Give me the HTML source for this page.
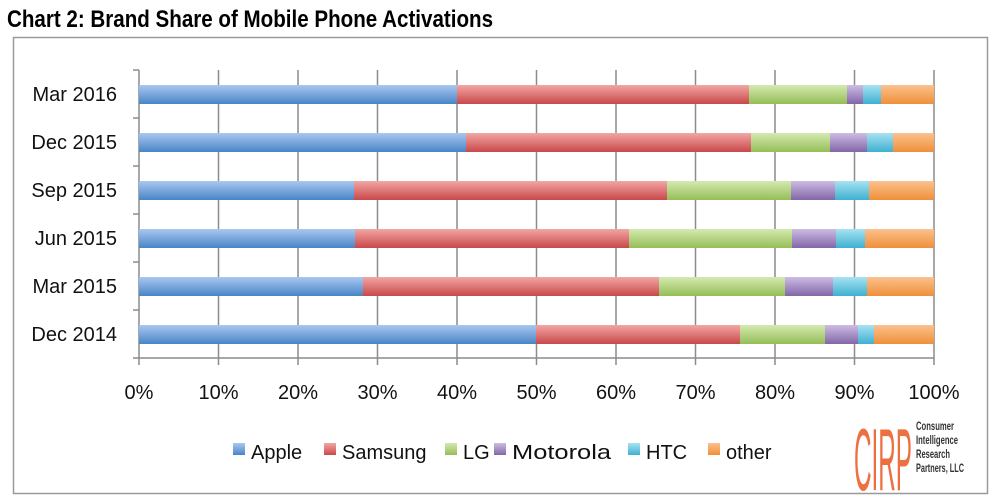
<!DOCTYPE html>
<html><head><meta charset="utf-8"><style>
html,body{margin:0;padding:0;background:#fff;}
svg{display:block;font-family:"Liberation Sans",sans-serif;}
</style></head><body>
<svg width="1000" height="500" viewBox="0 0 1000 500" xmlns="http://www.w3.org/2000/svg">
<defs>
<linearGradient id="gA" x1="0" y1="0" x2="0" y2="1"><stop offset="0" stop-color="#a9c8f0"/><stop offset="1" stop-color="#4a84c6"/></linearGradient>
<linearGradient id="gS" x1="0" y1="0" x2="0" y2="1"><stop offset="0" stop-color="#f2a7a5"/><stop offset="1" stop-color="#c9484a"/></linearGradient>
<linearGradient id="gL" x1="0" y1="0" x2="0" y2="1"><stop offset="0" stop-color="#d4eab0"/><stop offset="1" stop-color="#96bd58"/></linearGradient>
<linearGradient id="gM" x1="0" y1="0" x2="0" y2="1"><stop offset="0" stop-color="#cdbde3"/><stop offset="1" stop-color="#8266a8"/></linearGradient>
<linearGradient id="gH" x1="0" y1="0" x2="0" y2="1"><stop offset="0" stop-color="#a8e2f3"/><stop offset="1" stop-color="#3fb0cf"/></linearGradient>
<linearGradient id="gO" x1="0" y1="0" x2="0" y2="1"><stop offset="0" stop-color="#fbc18d"/><stop offset="1" stop-color="#f08f3a"/></linearGradient>
</defs>
<text x="7" y="27" font-size="24" font-weight="bold" textLength="486" lengthAdjust="spacingAndGlyphs">Chart 2: Brand Share of Mobile Phone Activations</text>
<rect x="13.5" y="37.5" width="974" height="456" fill="none" stroke="#9a9a9a" stroke-width="1.5"/>
<g stroke="#8c8c8c" stroke-width="1.5">
<line x1="218.5" y1="70" x2="218.5" y2="365"/><line x1="298" y1="70" x2="298" y2="365"/><line x1="377.5" y1="70" x2="377.5" y2="365"/><line x1="457" y1="70" x2="457" y2="365"/><line x1="536.5" y1="70" x2="536.5" y2="365"/><line x1="616" y1="70" x2="616" y2="365"/><line x1="695.5" y1="70" x2="695.5" y2="365"/><line x1="775" y1="70" x2="775" y2="365"/><line x1="854.5" y1="70" x2="854.5" y2="365"/><line x1="934" y1="70" x2="934" y2="365"/>
<line x1="139" y1="70" x2="139" y2="365"/><line x1="133" y1="358" x2="934" y2="358"/>
<line x1="133" y1="70" x2="139" y2="70"/><line x1="133" y1="118" x2="139" y2="118"/><line x1="133" y1="166" x2="139" y2="166"/><line x1="133" y1="214" x2="139" y2="214"/><line x1="133" y1="262" x2="139" y2="262"/><line x1="133" y1="310" x2="139" y2="310"/>
</g>
<g>
<rect x="139" y="85" width="318" height="19" fill="url(#gA)"/><rect x="457" y="85" width="292" height="19" fill="url(#gS)"/><rect x="749" y="85" width="98" height="19" fill="url(#gL)"/><rect x="847" y="85" width="16" height="19" fill="url(#gM)"/><rect x="863" y="85" width="18" height="19" fill="url(#gH)"/><rect x="881" y="85" width="53" height="19" fill="url(#gO)"/>
<rect x="139" y="133" width="327" height="19" fill="url(#gA)"/><rect x="466" y="133" width="285" height="19" fill="url(#gS)"/><rect x="751" y="133" width="79" height="19" fill="url(#gL)"/><rect x="830" y="133" width="37" height="19" fill="url(#gM)"/><rect x="867" y="133" width="26" height="19" fill="url(#gH)"/><rect x="893" y="133" width="41" height="19" fill="url(#gO)"/>
<rect x="139" y="181" width="215" height="19" fill="url(#gA)"/><rect x="354" y="181" width="313" height="19" fill="url(#gS)"/><rect x="667" y="181" width="124" height="19" fill="url(#gL)"/><rect x="791" y="181" width="44" height="19" fill="url(#gM)"/><rect x="835" y="181" width="34" height="19" fill="url(#gH)"/><rect x="869" y="181" width="65" height="19" fill="url(#gO)"/>
<rect x="139" y="229" width="216" height="19" fill="url(#gA)"/><rect x="355" y="229" width="274" height="19" fill="url(#gS)"/><rect x="629" y="229" width="163" height="19" fill="url(#gL)"/><rect x="792" y="229" width="44" height="19" fill="url(#gM)"/><rect x="836" y="229" width="29" height="19" fill="url(#gH)"/><rect x="865" y="229" width="69" height="19" fill="url(#gO)"/>
<rect x="139" y="277" width="224" height="19" fill="url(#gA)"/><rect x="363" y="277" width="296" height="19" fill="url(#gS)"/><rect x="659" y="277" width="126" height="19" fill="url(#gL)"/><rect x="785" y="277" width="48" height="19" fill="url(#gM)"/><rect x="833" y="277" width="34" height="19" fill="url(#gH)"/><rect x="867" y="277" width="67" height="19" fill="url(#gO)"/>
<rect x="139" y="325" width="397" height="19" fill="url(#gA)"/><rect x="536" y="325" width="204" height="19" fill="url(#gS)"/><rect x="740" y="325" width="85" height="19" fill="url(#gL)"/><rect x="825" y="325" width="33" height="19" fill="url(#gM)"/><rect x="858" y="325" width="16" height="19" fill="url(#gH)"/><rect x="874" y="325" width="60" height="19" fill="url(#gO)"/>
</g>
<g font-size="20" text-anchor="end" fill="#111">
<text x="117" y="101">Mar 2016</text><text x="117" y="149">Dec 2015</text><text x="117" y="197">Sep 2015</text><text x="117" y="245">Jun 2015</text><text x="117" y="293">Mar 2015</text><text x="117" y="341">Dec 2014</text>
</g>
<g font-size="20" text-anchor="middle" fill="#111">
<text x="139" y="399">0%</text><text x="218.5" y="399">10%</text><text x="298" y="399">20%</text><text x="377.5" y="399">30%</text><text x="457" y="399">40%</text><text x="536.5" y="399">50%</text><text x="616" y="399">60%</text><text x="695.5" y="399">70%</text><text x="775" y="399">80%</text><text x="854.5" y="399">90%</text><text x="934" y="399">100%</text>
</g>
<g font-size="20" fill="#111">
<rect x="233" y="443" width="12" height="12" fill="url(#gA)"/><text x="251" y="459">Apple</text>
<rect x="324" y="443" width="12" height="12" fill="url(#gS)"/><text x="342" y="459">Samsung</text>
<rect x="445" y="443" width="12" height="12" fill="url(#gL)"/><text x="463" y="459">LG</text>
<rect x="494" y="443" width="12" height="12" fill="url(#gM)"/><text x="512" y="459" textLength="99" lengthAdjust="spacingAndGlyphs">Motorola</text>
<rect x="628" y="443" width="12" height="12" fill="url(#gH)"/><text x="646" y="459">HTC</text>
<rect x="708" y="443" width="12" height="12" fill="url(#gO)"/><text x="726" y="459">other</text>
</g>
<text x="854" y="490" font-size="88" fill="#ee7040" textLength="58" lengthAdjust="spacingAndGlyphs">CIRP</text>
<g font-size="12" font-weight="bold" fill="#333" lengthAdjust="spacingAndGlyphs">
<text x="916" y="430" textLength="38" lengthAdjust="spacingAndGlyphs">Consumer</text>
<text x="916" y="444" textLength="42" lengthAdjust="spacingAndGlyphs">Intelligence</text>
<text x="916" y="458" textLength="34" lengthAdjust="spacingAndGlyphs">Research</text>
<text x="916" y="472" textLength="48" lengthAdjust="spacingAndGlyphs">Partners, LLC</text>
</g>
</svg>
</body></html>
